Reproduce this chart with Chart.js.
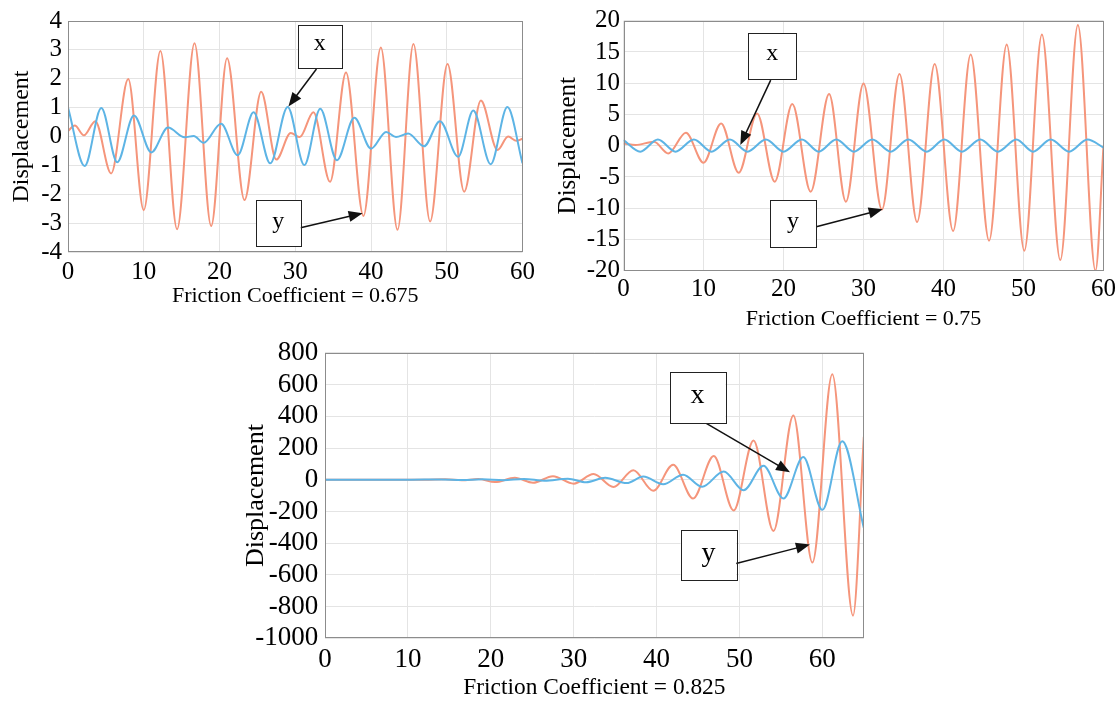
<!DOCTYPE html>
<html>
<head>
<meta charset="utf-8">
<script src="https://cdn.jsdelivr.net/npm/chart.js@4/dist/chart.umd.min.js"></script>
<style>
  body { margin: 0; background: #fff; width: 1120px; height: 702px; position: relative; overflow: hidden; }
  .panel { position: absolute; }
</style>
</head>
<body>
<div class="panel" style="left:0;top:0;width:540px;height:315px"><canvas id="c1"></canvas></div>
<div class="panel" style="left:540px;top:0;width:580px;height:340px"><canvas id="c2"></canvas></div>
<div class="panel" style="left:230px;top:330px;width:660px;height:372px"><canvas id="c3"></canvas></div>
<script>
'use strict';

const SERIF = "'Liberation Serif', 'Times New Roman', serif";
const BLUE = '#5db4e5';
const ORANGE = '#f5957b';

// friction 0.675
const f1XTicks = [0, 10, 20, 30, 40, 50, 60];
const f1YTicks = [-4, -3, -2, -1, 0, 1, 2, 3, 4];
const f1xTime = [0, 2.2, 4.4, 6.5, 8.7, 11.0, 13.2, 15.4, 16.6, 17.9, 20.2, 22.4, 24.5, 26.7, 29.0, 31.2, 33.3, 35.5, 37.8, 40.0, 42.0, 43.3, 44.9, 47.0, 49.1, 51.5, 53.5, 55.8, 58.0, 60];
const f1xDisp = [1.0, -1.02, 0.99, -0.89, 0.73, -0.55, 0.31, -0.03, 0.02, -0.22, 0.44, -0.65, 0.84, -0.93, 1.02, -0.99, 0.96, -0.82, 0.65, -0.42, 0.16, -0.02, 0.1, -0.34, 0.53, -0.7, 0.9, -0.96, 1.02, -0.93];
const f1yTime = [0, 0.9, 2.1, 3.6, 5.7, 7.95, 10.0, 12.2, 14.4, 16.7, 18.9, 21.0, 23.3, 25.5, 27.5, 29.4, 30.6, 32.4, 34.6, 36.7, 39.0, 41.3, 43.5, 45.6, 47.8, 50.1, 52.3, 54.5, 56.7, 58.1, 59.2, 60];
const f1yDisp = [0.19, 0.38, 0.04, 0.53, -1.28, 1.99, -2.55, 2.96, -3.21, 3.23, -3.1, 2.71, -2.2, 1.55, -0.8, 0.12, -0.02, 0.84, -1.57, 2.22, -2.75, 3.08, -3.23, 3.2, -2.94, 2.51, -1.91, 1.25, -0.47, 0.0, -0.15, -0.08];

// friction 0.75
const f2XTicks = [0, 10, 20, 30, 40, 50, 60];
const f2YTicks = [-20, -15, -10, -5, 0, 5, 10, 15, 20];
const f2xTime = [0, 2.1, 4.3, 6.5, 8.8, 11.0, 13.3, 15.5, 17.8, 20.0, 22.3, 24.4, 26.6, 28.8, 31.1, 33.4, 35.6, 37.9, 40.1, 42.3, 44.6, 46.8, 49.1, 51.2, 53.4, 55.7, 58.0, 60];
const f2xDisp = [0.9, -0.95, 1.0, -0.95, 1.0, -0.95, 1.0, -0.95, 1.0, -0.95, 1.0, -0.95, 1.0, -0.95, 1.0, -0.95, 1.0, -0.95, 1.0, -0.95, 1.0, -0.95, 1.0, -0.95, 1.0, -0.95, 1.0, -0.3];
const f2yTime = [0, 1.5, 3.8, 5.6, 7.8, 10.0, 12.2, 14.4, 16.7, 18.9, 21.1, 23.4, 25.7, 27.8, 30.0, 32.3, 34.5, 36.7, 38.9, 41.2, 43.4, 45.7, 47.9, 50.1, 52.3, 54.6, 56.8, 59.0, 60];
const f2yDisp = [0.37, 0.1, 0.64, -1.23, 2.08, -2.72, 3.57, -4.32, 5.17, -5.76, 6.67, -7.36, 8.27, -8.96, 9.97, -10.2, 11.47, -12.2, 13.07, -13.65, 14.6, -15.2, 16.2, -16.8, 17.8, -18.3, 19.3, -20.0, 0.0];

// friction 0.825
const f3XTicks = [0, 10, 20, 30, 40, 50, 60];
const f3YTicks = [-1000, -800, -600, -400, -200, 0, 200, 400, 600, 800];
const f3xTime = [0, 10, 14, 16.5, 19, 21.5, 24, 26.5, 29.3, 31.5, 33.8, 36.4, 38.4, 40.8, 43.2, 45.5, 48.1, 50.5, 52.9, 55.3, 57.7, 60.0, 62.4, 65];
const f3xDisp = [0, 0, 2, -2, 3, -3, 5, -6, 7, -16, 12, -21, 20, -29, 32, -44, 52, -66, 88, -118, 143, -190, 242, -303];
const f3yTime = [0, 12, 14.5, 16.5, 18.5, 20.5, 22.9, 25.1, 27.5, 30.0, 32.4, 34.8, 37.2, 39.6, 42.0, 44.4, 46.9, 49.3, 51.7, 54.1, 56.5, 58.8, 61.2, 63.7, 65];
const f3yDisp = [0, 0, 3, -3, 4, -15, 12, -19, 22, -25, 36, -46, 60, -70, 94, -118, 149, -194, 248, -323, 405, -522, 666, -857, 270];

// callout boxes and arrows, in axis units
const f1Notes = [
  { text: 'x', box: [30.35, 3.87, 36.1, 2.39], from: [32.8, 2.34], to: [29.1, 1.04] },
  { text: 'y', box: [24.8, -2.2, 30.7, -3.81], from: [30.7, -3.16], to: [38.9, -2.66] }
];
const f2Notes = [
  { text: 'x', box: [15.6, 17.98, 21.6, 10.67], from: [18.4, 10.5], to: [14.6, 0.1] },
  { text: 'y', box: [18.3, -8.69, 24.1, -16.26], from: [24.1, -12.96], to: [32.4, -10.18] }
];
const f3Notes = [
  { text: 'x', box: [41.6, 679, 48.3, 358], from: [46.0, 355], to: [56.1, 47] },
  { text: 'y', box: [42.9, -319, 49.6, -637], from: [49.6, -528], to: [58.5, -409] }
];

function points(t, v) {
  return t.map((tt, i) => ({ x: tt, y: v[i] }));
}

function notesPlugin(notes, fontSize) {
  return {
    id: 'notes',
    afterDatasetsDraw(chart) {
      const { ctx, chartArea: a, scales: { x, y } } = chart;
      ctx.save();
      ctx.strokeStyle = '#8c8c8c';
      ctx.lineWidth = 1;
      ctx.strokeRect(Math.round(a.left) + 0.5, Math.round(a.top) + 0.5, Math.round(a.width) - 1, Math.round(a.height) - 1);

      notes.forEach(n => {
        const x0 = x.getPixelForValue(n.box[0]), y0 = y.getPixelForValue(n.box[1]);
        const x1 = x.getPixelForValue(n.box[2]), y1 = y.getPixelForValue(n.box[3]);
        const fx = x.getPixelForValue(n.from[0]), fy = y.getPixelForValue(n.from[1]);
        const tx = x.getPixelForValue(n.to[0]), ty = y.getPixelForValue(n.to[1]);

        // arrow
        const ang = Math.atan2(ty - fy, tx - fx);
        const head = 14, half = 5.5;
        ctx.strokeStyle = '#111';
        ctx.fillStyle = '#111';
        ctx.lineWidth = 1.5;
        ctx.beginPath();
        ctx.moveTo(fx, fy);
        ctx.lineTo(tx - Math.cos(ang) * head * 0.8, ty - Math.sin(ang) * head * 0.8);
        ctx.stroke();
        ctx.beginPath();
        ctx.moveTo(tx, ty);
        ctx.lineTo(tx - Math.cos(ang) * head - Math.sin(ang) * half, ty - Math.sin(ang) * head + Math.cos(ang) * half);
        ctx.lineTo(tx - Math.cos(ang) * head + Math.sin(ang) * half, ty - Math.sin(ang) * head - Math.cos(ang) * half);
        ctx.closePath();
        ctx.fill();

        // box
        ctx.fillStyle = '#fff';
        ctx.fillRect(x0, y0, x1 - x0, y1 - y0);
        ctx.strokeStyle = '#222';
        ctx.lineWidth = 1;
        ctx.strokeRect(Math.round(x0) + 0.5, Math.round(y0) + 0.5, Math.round(x1 - x0), Math.round(y1 - y0));
        ctx.fillStyle = '#000';
        ctx.font = fontSize + 'px ' + SERIF;
        ctx.textAlign = 'center';
        ctx.textBaseline = 'middle';
        ctx.fillText(n.text, (x0 + x1) / 2, (y0 + y1) / 2 - 2);
      });
      ctx.restore();
    }
  };
}

function makeChart(id, o) {
  return new Chart(document.getElementById(id), {
    type: 'line',
    data: {
      datasets: [
        { label: 'x', data: points(o.xT, o.xV), borderColor: BLUE, borderWidth: 2, pointRadius: 0, cubicInterpolationMode: 'monotone' },
        { label: 'y', data: points(o.yT, o.yV), borderColor: ORANGE, borderWidth: 2, pointRadius: 0, cubicInterpolationMode: 'monotone' }
      ]
    },
    options: {
      responsive: true,
      maintainAspectRatio: false,
      animation: false,
      events: [],
      layout: { padding: o.pad },
      plugins: { legend: { display: false }, tooltip: { enabled: false } },
      scales: {
        x: {
          type: 'linear',
          min: o.xMin, max: o.xMax,
          afterBuildTicks: s => { s.ticks = o.xTicks.map(v => ({ value: v })); },
          afterFit: s => { s.height = o.xH; },
          ticks: { autoSkip: false, font: { family: SERIF, size: o.tickSize }, color: '#000', padding: o.xTickPad, maxRotation: 0, callback: v => String(v) },
          grid: { color: '#e4e4e4', drawTicks: false },
          border: { display: false },
          title: { display: true, text: o.xTitle, color: '#000', font: { family: SERIF, size: o.xTitleSize }, padding: { top: 0, bottom: o.xTitlePad } }
        },
        y: {
          min: o.yMin, max: o.yMax,
          afterBuildTicks: s => { s.ticks = o.yTicks.map(v => ({ value: v })); },
          afterFit: s => { s.width = o.yW; },
          ticks: { autoSkip: false, font: { family: SERIF, size: o.tickSize }, color: '#000', padding: o.yTickPad, callback: v => String(v) },
          grid: { color: '#e4e4e4', drawTicks: false },
          border: { display: false },
          title: { display: true, text: 'Displacement', color: '#000', font: { family: SERIF, size: o.yTitleSize }, padding: { top: o.yTitlePad, bottom: 0 } }
        }
      }
    },
    plugins: [notesPlugin(o.notes, o.noteSize)]
  });
}

makeChart('c1', {
  xT: f1xTime, xV: f1xDisp, yT: f1yTime, yV: f1yDisp,
  xMin: 0, xMax: 60, yMin: -4, yMax: 4, xTicks: f1XTicks, yTicks: f1YTicks,
  pad: { left: 0, right: 14.5, top: 20, bottom: 0 }, xH: 63, yW: 68,
  tickSize: 25, xTickPad: 5, yTickPad: 6,
  xTitle: 'Friction Coefficient = 0.675', xTitleSize: 22, xTitlePad: 6,
  yTitleSize: 24, yTitlePad: 7.5,
  notes: f1Notes, noteSize: 24
});

makeChart('c2', {
  xT: f2xTime, xV: f2xDisp, yT: f2yTime, yV: f2yDisp,
  xMin: 0, xMax: 60, yMin: -20, yMax: 20, xTicks: f2XTicks, yTicks: f2YTicks,
  pad: { left: 0, right: 16.5, top: 20.7, bottom: 0 }, xH: 69.3, yW: 83.5,
  tickSize: 25, xTickPad: 4, yTickPad: 3.5,
  xTitle: 'Friction Coefficient = 0.75', xTitleSize: 22, xTitlePad: 7.8,
  yTitleSize: 25, yTitlePad: 13,
  notes: f2Notes, noteSize: 24
});

makeChart('c3', {
  xT: f3xTime, xV: f3xDisp, yT: f3yTime, yV: f3yDisp,
  xMin: 0, xMax: 65, yMin: -1000, yMax: 800, xTicks: f3XTicks, yTicks: f3YTicks,
  pad: { left: 0, right: 26.2, top: 16, bottom: 0 }, xH: 63.7, yW: 95,
  tickSize: 27, xTickPad: 5, yTickPad: 6.7,
  xTitle: 'Friction Coefficient = 0.825', xTitleSize: 23.4, xTitlePad: 0,
  yTitleSize: 26, yTitlePad: 10.4,
  notes: f3Notes, noteSize: 28
});
</script>
</body>
</html>
